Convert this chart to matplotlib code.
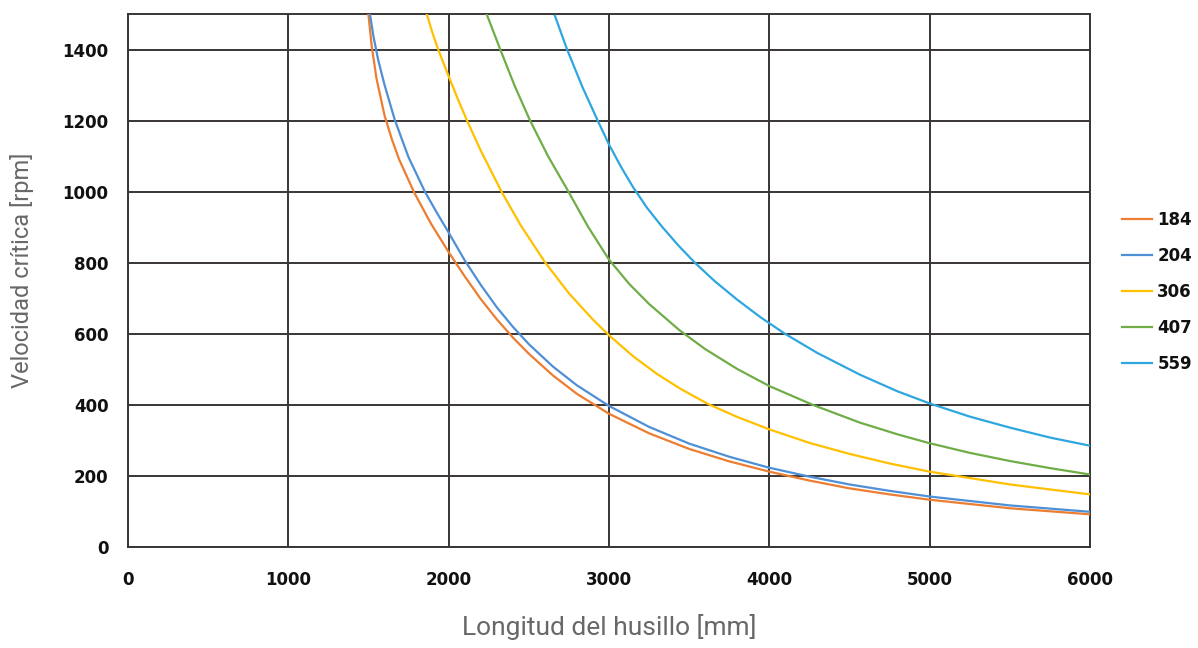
import matplotlib
matplotlib.use("Agg")
import matplotlib.pyplot as plt

# Datos (longitud [mm] -> velocidad critica [rpm])
x_184 = [1500, 1520, 1550, 1600, 1645, 1690, 1786, 1890, 2000, 2100, 2200, 2300, 2400,
         2500, 2650, 2800, 3000, 3250, 3500, 3750, 4000, 4250, 4500, 4750, 5000, 5500, 6000]
y_184 = [1498, 1411, 1319, 1215, 1149, 1092, 997, 910, 830, 762, 698, 641, 590,
         544, 483, 431, 375, 320, 276, 241, 212, 187, 165, 148, 133, 109, 92]

x_204 = [1509, 1530, 1560, 1600, 1665, 1750, 1852, 1925, 2000, 2100, 2200, 2300, 2400,
         2500, 2650, 2800, 3000, 3250, 3500, 3750, 4000, 4250, 4500, 4750, 5000, 5500, 6000]
y_204 = [1502, 1440, 1372, 1301, 1201, 1097, 1000, 942, 885, 807, 738, 675, 620,
         571, 508, 455, 397, 338, 291, 254, 223, 198, 176, 158, 142, 117, 99]

x_306 = [1863, 1900, 1935, 2000, 2060, 2115, 2200, 2330, 2450, 2600, 2750, 2900, 3000,
         3150, 3300, 3450, 3620, 3800, 4000, 4250, 4500, 4750, 5000, 5500, 6000]
y_306 = [1501, 1446, 1400, 1325, 1258, 1200, 1116, 1000, 905, 802, 714, 640, 596,
         537, 487, 444, 402, 366, 331, 293, 262, 235, 212, 176, 148]

x_407 = [2237, 2325, 2410, 2507, 2620, 2746, 2870, 3000, 3125, 3250, 3440, 3600, 3800,
         4000, 4271, 4565, 4800, 5000, 5250, 5500, 5750, 6000]
y_407 = [1500, 1397, 1300, 1201, 1100, 1001, 901, 809, 741, 684, 610, 557, 501,
         453, 400, 350, 317, 292, 265, 242, 222, 204]

x_559 = [2663, 2740, 2835, 2933, 3000, 3075, 3150, 3240, 3330, 3430, 3536, 3660, 3800,
         3950, 4098, 4300, 4565, 4800, 5000, 5250, 5500, 5750, 6000]
y_559 = [1495, 1399, 1294, 1197, 1133, 1070, 1013, 953, 902, 850, 800, 748, 696,
         645, 600, 546, 485, 438, 404, 367, 336, 308, 285]

series = [
    ("184", x_184, y_184, "#ED7D31"),
    ("204", x_204, y_204, "#4F8FD6"),
    ("306", x_306, y_306, "#FFC000"),
    ("407", x_407, y_407, "#70AD47"),
    ("559", x_559, y_559, "#2EA6E0"),
]

x_ticks = [0, 1000, 2000, 3000, 4000, 5000, 6000]
y_ticks = [0, 200, 400, 600, 800, 1000, 1200, 1400]

tick_font = ['DejaVu Sans']
label_font = ['Roboto', 'DejaVu Sans']

fig = plt.figure(figsize=(11.98, 6.48), dpi=100)
ax = fig.add_axes([0.1068, 0.1559, 0.8030, 0.8225])

for name, xs, ys, col in series:
    ax.plot(xs, ys, color=col, linewidth=1.6, label=name, zorder=3,
            solid_joinstyle="round")

ax.set_xlim(0, 6000)
ax.set_ylim(0, 1500)
ax.set_xticks(x_ticks)
ax.set_yticks(y_ticks)
ax.grid(True, color="#3a3535", linewidth=1.4, zorder=1)
for sp in ax.spines.values():
    sp.set_color("#3a3535")
    sp.set_linewidth(1.4)

ax.tick_params(axis="both", length=0)
ax.tick_params(axis="x", pad=17)
ax.tick_params(axis="y", pad=14)
for lab in ax.get_xticklabels() + ax.get_yticklabels():
    lab.set_fontfamily(tick_font)
    lab.set_fontweight("bold")
    lab.set_fontsize(12)
    lab.set_color("#111111")

ax.set_xlabel("Longitud del husillo [mm]", family=label_font, fontweight="normal",
              fontsize=19, color="#686868", labelpad=18)
ax.set_ylabel("Velocidad crítica [rpm]", family=label_font, fontweight="normal",
              fontsize=17, color="#686868")
ax.yaxis.set_label_coords(-0.098, 0.52)

leg = ax.legend(loc="center left", bbox_to_anchor=(1.018, 0.478), frameon=False,
                handlelength=1.8, handletextpad=0.3, labelspacing=1.08,
                prop={"family": tick_font, "weight": "bold", "size": 12})
for t in leg.get_texts():
    t.set_color("#111111")

fig.savefig("out.png", dpi=100, facecolor="white")
